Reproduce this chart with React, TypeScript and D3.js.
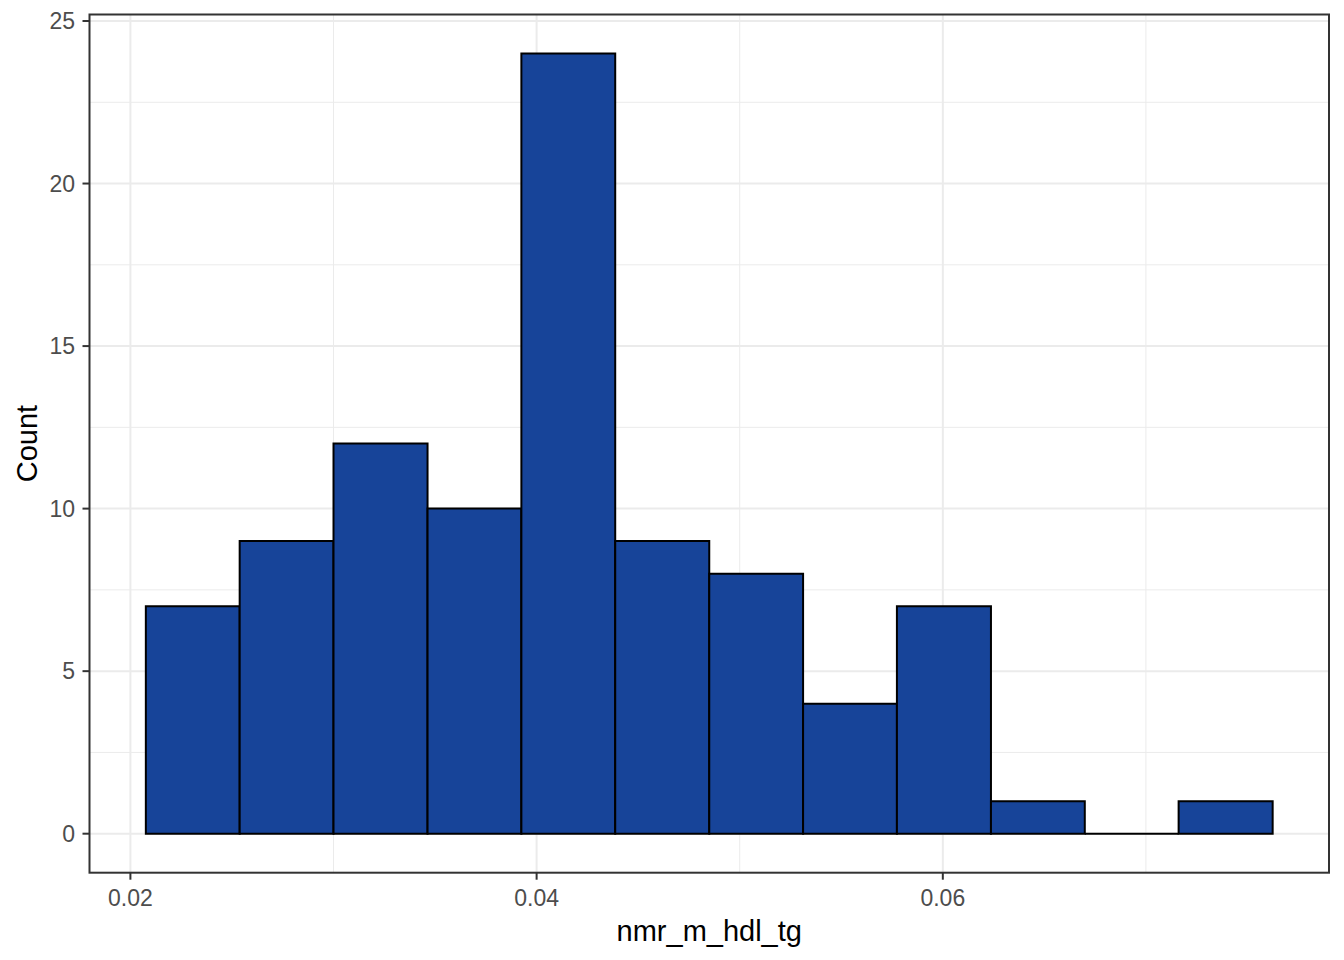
import React from "react";
import * as d3 from "d3";

const binEdges = [0.02076, 0.02538, 0.03, 0.03463, 0.03925, 0.04387, 0.0485, 0.05312, 0.05774, 0.06237, 0.06699, 0.07161, 0.07624];
const counts = [7, 9, 12, 10, 24, 9, 8, 4, 7, 1, 0, 1];
const xMajor = [0.02, 0.04, 0.06];
const xMinor = [0.03, 0.05, 0.07];
const yMajor = [0, 5, 10, 15, 20, 25];
const yMinor = [2.5, 7.5, 12.5, 17.5, 22.5];
const xTitle = "nmr_m_hdl_tg";
const yTitle = "Count";

const W = 1344, H = 960;
const L = 89.5, R = 1329, T = 14.5, B = 872.7;
const FONT = "'Liberation Sans', Arial, sans-serif";

export default function App() {
  const x0 = binEdges[0], x1 = binEdges[binEdges.length - 1];
  const xpad = (x1 - x0) * 0.05;
  const x = d3.scaleLinear().domain([x0 - xpad, x1 + xpad]).range([L, R]);
  const ymax = d3.max(counts) as number;
  const y = d3.scaleLinear().domain([-ymax * 0.05, ymax * 1.05]).range([B, T]);
  const fmt = d3.format(".2f");

  const barPath = (i: number) => {
    const p = d3.path();
    const xa = x(binEdges[i]), xb = x(binEdges[i + 1]);
    const ya = y(0), yb = y(counts[i]);
    p.moveTo(xa, ya);
    p.lineTo(xa, yb);
    p.lineTo(xb, yb);
    p.lineTo(xb, ya);
    p.closePath();
    return p.toString();
  };

  return (
    <div style={{ position: "absolute", left: 0, top: 0 }}>
      <svg width={W} height={H} style={{ display: "block", background: "#fff" }}>
        <rect x={0} y={0} width={W} height={H} fill="#fff" />
        {xMinor.map((v) => (
          <line key={"xm" + v} x1={x(v)} x2={x(v)} y1={T} y2={B} stroke="#EBEBEB" strokeWidth={1} />
        ))}
        {yMinor.map((v) => (
          <line key={"ym" + v} x1={L} x2={R} y1={y(v)} y2={y(v)} stroke="#EBEBEB" strokeWidth={1} />
        ))}
        {xMajor.map((v) => (
          <line key={"xM" + v} x1={x(v)} x2={x(v)} y1={T} y2={B} stroke="#EBEBEB" strokeWidth={2} />
        ))}
        {yMajor.map((v) => (
          <line key={"yM" + v} x1={L} x2={R} y1={y(v)} y2={y(v)} stroke="#EBEBEB" strokeWidth={2} />
        ))}
        {counts.map((c, i) => (
          <path key={"b" + i} d={barPath(i)} fill="#174499" stroke="#000" strokeWidth={2} strokeLinejoin="miter" />
        ))}
        <rect x={L} y={T} width={R - L} height={B - T} fill="none" stroke="#333333" strokeWidth={2} />
        {xMajor.map((v) => (
          <g key={"xt" + v}>
            <line x1={x(v)} x2={x(v)} y1={B} y2={B + 7} stroke="#333333" strokeWidth={2} />
            <text x={x(v)} y={906} textAnchor="middle" fontFamily={FONT} fontSize={23} fill="#4D4D4D">
              {fmt(v)}
            </text>
          </g>
        ))}
        {yMajor.map((v) => (
          <g key={"yt" + v}>
            <line x1={L - 7} x2={L} y1={y(v)} y2={y(v)} stroke="#333333" strokeWidth={2} />
            <text x={75} y={y(v) + 8} textAnchor="end" fontFamily={FONT} fontSize={23} fill="#4D4D4D">
              {v}
            </text>
          </g>
        ))}
        <text x={(L + R) / 2} y={941} textAnchor="middle" fontFamily={FONT} fontSize={29} fill="#000">
          {xTitle}
        </text>
        <text
          transform={`translate(37, ${(T + B) / 2}) rotate(-90)`}
          textAnchor="middle"
          fontFamily={FONT}
          fontSize={29}
          fill="#000"
        >
          {yTitle}
        </text>
      </svg>
    </div>
  );
}
